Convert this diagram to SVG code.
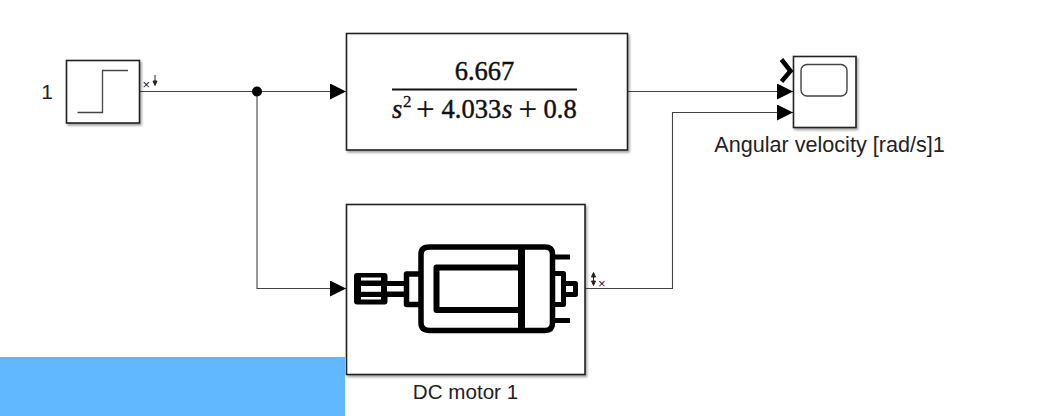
<svg xmlns="http://www.w3.org/2000/svg" width="1044" height="416" viewBox="0 0 1044 416">
<defs>
<filter id="sh" x="-10%" y="-10%" width="120%" height="120%"><feDropShadow dx="1.5" dy="2" stdDeviation="1.2" flood-color="#000" flood-opacity="0.35"/></filter>
<marker id="arr" markerUnits="userSpaceOnUse" markerWidth="17" markerHeight="16" refX="16" refY="8" orient="auto"><path d="M0 0L16 8L0 16Z" fill="#000"/></marker>
</defs>
<style>
.blk{fill:#fff;stroke:#222;stroke-width:1.6;filter:url(#sh)}
.con{fill:none;stroke:#444;stroke-width:1.1}
.lbl{font-family:"Liberation Sans",Arial,sans-serif;font-size:21px;fill:#222}
.mth{font-family:"Liberation Serif","Times New Roman",serif;font-size:26.5px;fill:#111;stroke:#111;stroke-width:0.45}
.sup{font-size:17px;stroke-width:0.3}
.pls{font-size:33px;stroke-width:0.2}
.tiny{font-family:"Liberation Sans",Arial,sans-serif;font-size:13px;fill:#222}
.ico{fill:none;stroke:#000;stroke-linejoin:round}
</style>
<rect x="0" y="357" width="345" height="59" fill="#61b8ff"/>
<g id="connectors">
<path class="con" d="M139.500 91.500H346" marker-end="url(#arr)"/>
<path class="con" d="M257 91.500V288.500H346" marker-end="url(#arr)"/>
<path class="con" d="M627.500 91.500H793" marker-end="url(#arr)"/>
<path class="con" d="M585.500 288.500H672.500V112.500H793" marker-end="url(#arr)"/>
<circle cx="257" cy="91.500" r="5" fill="#000"/>
</g>
<g id="step">
<rect class="blk" x="66.500" y="60.500" width="73" height="62.500"/>
<path d="M77.500 112.500H102.500V70.500H128" fill="none" stroke="#444" stroke-width="1.300"/>
<text class="lbl" x="47" y="98.500" text-anchor="middle">1</text>
<text class="tiny" x="142.500" y="89">×</text>
<path d="M155 75V83M153 81L155 85.500L157 81Z" fill="#222" stroke="#222" stroke-width="1"/>
</g>
<g id="transfer-fcn">
<rect class="blk" x="346.500" y="33.500" width="281" height="116.500"/>
<text class="mth" x="484.500" y="80" text-anchor="middle">6.667</text>
<rect x="392" y="88.500" width="185" height="2" fill="#111"/>
<text class="mth" x="392" y="118" font-style="italic">s</text>
<text class="mth sup" x="403" y="107">2</text>
<text class="mth pls" x="416" y="120">+</text>
<text class="mth" x="441.500" y="118">4.033</text>
<text class="mth" x="502" y="118" font-style="italic">s</text>
<text class="mth pls" x="518.500" y="120">+</text>
<text class="mth" x="543.500" y="118">0.8</text>
</g>
<g id="scope">
<rect class="blk" x="793.500" y="56.500" width="62.500" height="71"/>
<rect x="801" y="64.500" width="46" height="31.500" rx="6" fill="none" stroke="#444" stroke-width="1.400"/>
<path d="M781.500 59.500L790.500 71L781.500 81.500" fill="none" stroke="#000" stroke-width="4.500"/>
<text class="lbl" x="829.500" y="152" text-anchor="middle" style="font-size:21.600px">Angular velocity [rad/s]1</text>
</g>
<g id="dc-motor">
<rect class="blk" x="346.500" y="204.500" width="238.500" height="170"/>
<rect x="354" y="273" width="33.500" height="31.500" rx="3" fill="#000"/>
<rect x="361" y="277.500" width="20" height="3" fill="#fff"/><rect x="361" y="286" width="20" height="5.800" fill="#fff"/><rect x="361" y="297" width="20" height="2.500" fill="#fff"/>
<rect x="385" y="281" width="20" height="16" fill="#000"/><rect x="387" y="286" width="18" height="5.500" fill="#fff"/>
<path d="M421 274H406.500V304.500H421" class="ico" stroke-width="5.500"/>
<path d="M430 247H545Q552.500 247 552.500 254V323Q552.500 330.500 545 330.500H430Q421 330.500 421 323V254Q421 247 430 247Z" class="ico" stroke-width="5.500"/>
<path d="M518 267.500H436.500V310H518" class="ico" stroke-width="6"/>
<rect x="518" y="245" width="7" height="87" fill="#000"/>
<path d="M555 257H570M555 320.500H570" class="ico" stroke-width="5"/>
<path d="M555 273.500H563.500V304.500H555" class="ico" stroke-width="5"/>
<path d="M566 283.500H575.500V294.500H566" class="ico" stroke-width="5"/>
<text class="lbl" x="465.500" y="399" text-anchor="middle" style="font-size:20.600px">DC motor 1</text>
<path d="M593.500 275V283M591.500 277L593.500 272.500L595.500 277ZM591.500 281L593.500 285.500L595.500 281Z" fill="#222" stroke="#222" stroke-width="1"/>
<text class="tiny" x="598" y="288">×</text>
</g>
</svg>
